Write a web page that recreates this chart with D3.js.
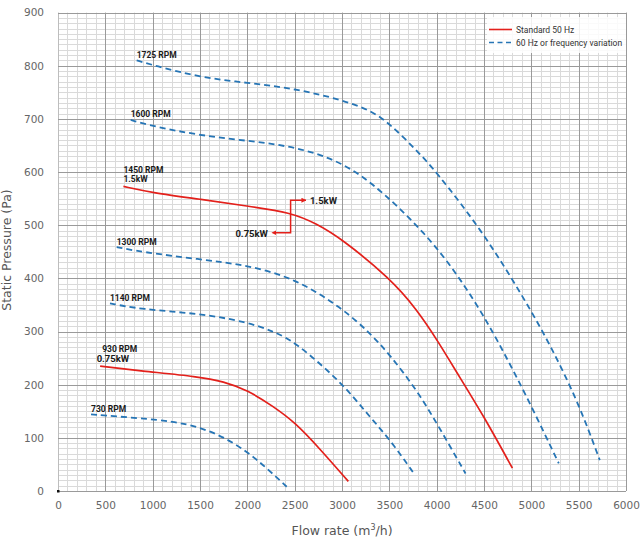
<!DOCTYPE html>
<html>
<head>
<meta charset="utf-8">
<script src="https://cdn.jsdelivr.net/npm/d3@7"></script>
<style>
    body { margin: 0; background: #fff; }
    svg text { font-family: "DejaVu Sans", sans-serif; }
</style>
</head>
<body>
<div id="chart"></div>
<script>
// tick labels
const xTicks = [0, 500, 1000, 1500, 2000, 2500, 3000, 3500, 4000, 4500, 5000, 5500, 6000];
const yTicks = [0, 100, 200, 300, 400, 500, 600, 700, 800, 900];

// fan curves [flow m3/h, static pressure Pa]
const rpm1725 = [[831, 810], [1007, 801], [1500, 778], [2000, 768], [2500, 757], [3000, 736], [3300, 716],
    [3500, 692], [3787, 641], [3985, 603], [4491, 487], [4914, 365], [5200, 275], [5500, 165], [5723, 58]];
const rpm1600 = [[768, 698], [1007, 686], [1500, 669], [2000, 659], [2500, 648], [3000, 620], [3418, 566],
    [3985, 466], [4403, 359], [4700, 265], [5000, 160], [5290, 52]];
const rpm1450 = [[691, 573], [1000, 561], [1500, 549], [2000, 536], [2460, 524], [2730, 503], [3000, 474],
    [3507, 400], [3789, 342], [4017, 281], [4250, 212], [4500, 140], [4800, 43]];
const rpm1300 = [[620, 459], [867, 450], [1493, 436], [2000, 425], [2504, 400], [3003, 344], [3296, 297],
    [3507, 256], [3789, 190], [4000, 128], [4305, 33]];
const rpm1140 = [[549, 353], [867, 342], [1493, 334], [2000, 318], [2275, 300], [2504, 281], [3003, 203],
    [3261, 146], [3507, 97], [3771, 30]];
const rpm930 = [[445, 235], [867, 226], [1493, 215], [1747, 206], [2000, 190], [2275, 159], [2504, 129],
    [2768, 79], [3067, 18]];
const rpm730 = [[349, 144], [867, 137], [1219, 131], [1493, 120], [1747, 102], [2000, 74], [2205, 43], [2416, 8]];

const curveNames = ["1725 RPM", "1600 RPM", "1450 RPM", "1300 RPM", "1140 RPM", "930 RPM", "730 RPM"];
const curvePower = ["", "", "1.5kW", "", "", "0.75kW", ""];
const curveStandard = [false, false, true, false, false, true, false];
const curveData = [rpm1725, rpm1600, rpm1450, rpm1300, rpm1140, rpm930, rpm730];

// motor change annotation
const motorSwitchFlow = 2457;
const motorHigh = {label: "1.5kW", pressure: 547, flowEnd: 2619};
const motorLow = {label: "0.75kW", pressure: 486, flowEnd: 2302};

const legendLabels = ["Standard 50 Hz", "60 Hz or frequency variation"];

class fanChartViz {
    constructor(parentElement) {
        this.parentElement = parentElement;
        this.red = "#e3201b";
        this.blue = "#2675b5";
        this.initVis();
    }

    initVis() {
        let vis = this;
        vis.width = 642;
        vis.height = 542;

        vis.svg = d3.select("#" + vis.parentElement).append("svg")
            .attr("width", vis.width)
            .attr("height", vis.height);

        vis.x = d3.scaleLinear().domain([0, 6000]).range([58, 626]);
        vis.y = d3.scaleLinear().domain([0, 900]).range([491, 12.6]);

        vis.drawGrid();
        vis.drawAxes();
        vis.drawCurves();
        vis.drawLegend();
    }

    drawGrid() {
        let vis = this;
        let g = vis.svg.append("g").attr("class", "grid");

        // minor lines first, majors on top
        g.selectAll(".vminor").data(d3.range(0, 6001, 100).filter(d => d % 500 !== 0))
            .enter().append("line")
            .attr("x1", d => Math.round(vis.x(d)) + 0.5).attr("x2", d => Math.round(vis.x(d)) + 0.5)
            .attr("y1", vis.y(0)).attr("y2", vis.y(900))
            .attr("stroke", "#dadada").attr("stroke-width", 1);

        g.selectAll(".hminor").data(d3.range(0, 901, 10).filter(d => d % 100 !== 0))
            .enter().append("line")
            .attr("y1", d => Math.round(vis.y(d)) + 0.5).attr("y2", d => Math.round(vis.y(d)) + 0.5)
            .attr("x1", vis.x(0)).attr("x2", vis.x(6000))
            .attr("stroke", "#dadada").attr("stroke-width", 1);

        g.selectAll(".vmajor").data(xTicks)
            .enter().append("line")
            .attr("x1", d => Math.round(vis.x(d)) + 0.5).attr("x2", d => Math.round(vis.x(d)) + 0.5)
            .attr("y1", vis.y(0)).attr("y2", vis.y(900))
            .attr("stroke", d => d === 0 ? "#bdbdbd" : "#9a9a9a").attr("stroke-width", 1);

        g.selectAll(".hmajor").data(yTicks)
            .enter().append("line")
            .attr("y1", d => Math.round(vis.y(d)) + 0.5).attr("y2", d => Math.round(vis.y(d)) + 0.5)
            .attr("x1", vis.x(0)).attr("x2", vis.x(6000))
            .attr("stroke", "#9a9a9a").attr("stroke-width", 1);

        // small dark mark at origin
        vis.svg.append("rect")
            .attr("x", vis.x(0) - 1).attr("y", vis.y(0) - 1)
            .attr("width", 2.5).attr("height", 2.5)
            .attr("fill", "#111");
    }

    drawAxes() {
        let vis = this;

        let xAxis = d3.axisBottom(vis.x).tickValues(xTicks).tickFormat(d3.format("d"))
            .tickSize(0).tickPadding(11);
        let yAxis = d3.axisLeft(vis.y).tickValues(yTicks).tickFormat(d3.format("d"))
            .tickSize(0).tickPadding(14);

        let gx = vis.svg.append("g")
            .attr("transform", "translate(0," + vis.y(0) + ")")
            .call(xAxis);
        let gy = vis.svg.append("g")
            .attr("transform", "translate(" + vis.x(0) + ",0)")
            .call(yAxis);

        [gx, gy].forEach(g => {
            g.select(".domain").remove();
            g.selectAll("text")
                .attr("fill", "#666")
                .style("font-size", "10.5px")
                .style("font-family", "DejaVu Sans");
        });

        let xt = vis.svg.append("text")
            .attr("x", 342).attr("y", 535)
            .attr("text-anchor", "middle")
            .attr("fill", "#555")
            .style("font-size", "12.5px");
        xt.append("tspan").text("Flow rate (m");
        xt.append("tspan").text("3").attr("dy", -5).style("font-size", "8px");
        xt.append("tspan").text("/h)").attr("dy", 5);

        vis.svg.append("text")
            .attr("transform", "translate(11,250) rotate(-90)")
            .attr("text-anchor", "middle")
            .attr("fill", "#555")
            .style("font-size", "12.5px")
            .text("Static Pressure (Pa)");
    }

    drawCurves() {
        let vis = this;
        let line = d3.line()
            .x(d => vis.x(d[0]))
            .y(d => vis.y(d[1]))
            .curve(d3.curveBasis);

        let series = curveData.map((d, i) => ({
            name: curveNames[i], power: curvePower[i], standard: curveStandard[i], values: d
        }));

        vis.svg.selectAll(".fan-curve").data(series)
            .enter().append("path")
            .attr("class", "fan-curve")
            .attr("d", d => line(d.values))
            .attr("fill", "none")
            .attr("stroke", d => d.standard ? vis.red : vis.blue)
            .attr("stroke-width", d => d.standard ? 1.7 : 1.8)
            .attr("stroke-dasharray", d => d.standard ? null : "6,4");

        // rpm labels sit just above the first point of each curve
        let labels = vis.svg.selectAll(".rpm-label").data(series)
            .enter().append("text")
            .attr("class", "rpm-label")
            .attr("x", d => vis.x(d.values[0][0]))
            .attr("y", d => vis.y(d.values[0][1]) - (d.power ? 13 : 2.5))
            .attr("fill", "#1a1a1a")
            .style("font-family", "Roboto, sans-serif")
            .style("font-weight", "bold")
            .style("font-size", "8.5px")
            .text(d => d.name);

        vis.svg.selectAll(".power-label").data(series.filter(d => d.power))
            .enter().append("text")
            .attr("class", "power-label")
            .attr("x", d => vis.x(d.values[0][0]) + (d.name === "930 RPM" ? -3.5 : 0))
            .attr("y", d => vis.y(d.values[0][1]) - 4)
            .attr("fill", "#1a1a1a")
            .style("font-family", "Roboto, sans-serif")
            .style("font-weight", "bold")
            .style("font-size", d => d.name === "930 RPM" ? "9.5px" : "8.5px")
            .text(d => d.power);

        // 930 RPM name sits a bit to the right and higher
        labels.filter(d => d.name === "930 RPM")
            .attr("x", d => vis.x(d.values[0][0]) + 2)
            .attr("y", d => vis.y(d.values[0][1]) - 14);

        // motor switch annotation
        let defs = vis.svg.append("defs");
        defs.append("marker")
            .attr("id", "arrowHead")
            .attr("viewBox", "0 0 10 10")
            .attr("refX", 9).attr("refY", 5)
            .attr("markerWidth", 5).attr("markerHeight", 5)
            .attr("markerUnits", "userSpaceOnUse")
            .attr("orient", "auto")
            .append("path")
            .attr("d", "M0,0 L10,5 L0,10 Z")
            .attr("fill", vis.red);

        defs.append("marker")
            .attr("id", "arrowHeadStart")
            .attr("viewBox", "0 0 10 10")
            .attr("refX", 1).attr("refY", 5)
            .attr("markerWidth", 5).attr("markerHeight", 5)
            .attr("markerUnits", "userSpaceOnUse")
            .attr("orient", "auto-start-reverse")
            .append("path")
            .attr("d", "M0,0 L10,5 L0,10 Z")
            .attr("fill", vis.red);

        let ax = vis.x(motorSwitchFlow);
        vis.svg.append("path")
            .attr("d", "M" + vis.x(motorLow.flowEnd) + "," + vis.y(motorLow.pressure) +
                " L" + ax + "," + vis.y(motorLow.pressure) +
                " L" + ax + "," + vis.y(motorHigh.pressure) +
                " L" + vis.x(motorHigh.flowEnd) + "," + vis.y(motorHigh.pressure))
            .attr("fill", "none")
            .attr("stroke", vis.red)
            .attr("stroke-width", 1.5)
            .attr("marker-start", "url(#arrowHeadStart)")
            .attr("marker-end", "url(#arrowHead)");

        vis.svg.append("text")
            .attr("x", vis.x(motorHigh.flowEnd) + 4)
            .attr("y", vis.y(motorHigh.pressure) + 3.5)
            .attr("fill", "#1a1a1a")
            .style("font-family", "Roboto, sans-serif")
            .style("font-weight", "bold")
            .style("font-size", "9.5px")
            .text(motorHigh.label);

        vis.svg.append("text")
            .attr("x", vis.x(motorLow.flowEnd) - 8)
            .attr("y", vis.y(motorLow.pressure) + 4)
            .attr("text-anchor", "end")
            .attr("fill", "#1a1a1a")
            .style("font-family", "Roboto, sans-serif")
            .style("font-weight", "bold")
            .style("font-size", "9.5px")
            .text(motorLow.label);
    }

    drawLegend() {
        let vis = this;
        let lg = vis.svg.append("g").attr("class", "legend");

        lg.append("rect")
            .attr("x", 487).attr("y", 17)
            .attr("width", 139).attr("height", 36)
            .attr("fill", "#fff")
            .attr("opacity", 0.85);

        lg.selectAll("line").data(legendLabels)
            .enter().append("line")
            .attr("x1", 489).attr("x2", 512)
            .attr("y1", (d, i) => 29.5 + i * 13).attr("y2", (d, i) => 29.5 + i * 13)
            .attr("stroke", (d, i) => i === 0 ? vis.red : vis.blue)
            .attr("stroke-width", 1.6)
            .attr("stroke-dasharray", (d, i) => i === 0 ? null : "5,3.5");

        lg.selectAll("text").data(legendLabels)
            .enter().append("text")
            .attr("x", 516)
            .attr("y", (d, i) => 32.5 + i * 13)
            .attr("fill", "#333")
            .style("font-family", "Roboto, sans-serif")
            .style("font-size", "8.5px")
            .text(d => d);
    }
}

new fanChartViz("chart");
</script>
</body>
</html>
